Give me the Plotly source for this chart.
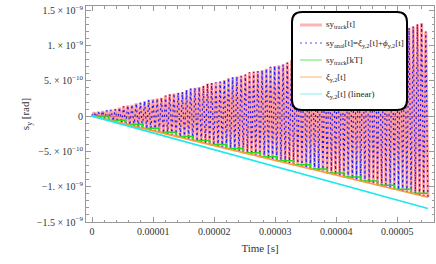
import numpy as np
import plotly.graph_objects as go

# ---------------- data (units of 1e-10 rad, time in s) ----------------
T_END = 5.5e-5
N_OSC = 80

# upper turning points of the tracked / analytic oscillation
peak_vals = [0.5, 0.6, 0.7, 0.8, 0.9, 1.0, 1.2, 1.4, 1.5, 1.6,
             1.8, 1.9, 2.1, 2.3, 2.4, 2.5, 2.6, 2.9, 3.1, 3.2,
             3.3, 3.4, 3.7, 3.9, 4.0, 4.1, 4.3, 4.6, 4.7, 4.8,
             4.9, 5.1, 5.4, 5.5, 5.6, 5.7, 5.9, 6.2, 6.3, 6.4,
             6.5, 6.7, 7.0, 7.1, 7.2, 7.3, 7.6, 7.9, 8.0, 8.1,
             8.2, 8.4, 8.7, 8.8, 8.9, 9.0, 9.3, 9.6, 9.7, 9.8,
             9.9, 10.1, 10.4, 10.5, 10.6, 10.7, 10.9, 11.2, 11.3, 11.4,
             11.5, 11.8, 12.1, 12.2, 12.3, 12.5, 12.7, 13.0, 13.2, 12.0]

# lower turning points
trough_vals = [0, -0.14, -0.29, -0.43, -0.58, -0.72, -0.86, -1.01, -1.15, -1.29,
               -1.44, -1.58, -1.73, -1.87, -2.01, -2.16, -2.30, -2.44, -2.59, -2.73,
               -2.88, -3.02, -3.16, -3.31, -3.45, -3.59, -3.74, -3.88, -4.03, -4.17,
               -4.31, -4.46, -4.60, -4.74, -4.89, -5.03, -5.18, -5.32, -5.46, -5.61,
               -5.75, -5.89, -6.04, -6.18, -6.33, -6.47, -6.61, -6.76, -6.90, -7.04,
               -7.19, -7.33, -7.48, -7.62, -7.76, -7.91, -8.05, -8.19, -8.34, -8.48,
               -8.63, -8.77, -8.91, -9.06, -9.20, -9.34, -9.49, -9.63, -9.78, -9.92,
               -10.06, -10.21, -10.35, -10.49, -10.64, -10.78, -10.93, -11.07, -11.21, -11.36,
               -11.50]

# sy_track[kT] staircase
step_vals = [0, -0.58, -1.15, -1.73, -2.30, -2.88, -3.45, -4.03, -4.60, -5.18,
             -5.75, -6.33, -6.90, -7.48, -8.05, -8.63, -9.20, -9.78, -10.35, -10.93,
             -10.93]

xi_t = [0, T_END]
xi_vals = [0, -11.5]
xi_lin_vals = [0, -13.1]

x_tickvals = [0, 1e-5, 2e-5, 3e-5, 4e-5, 5e-5]
x_ticktext = ["0", "0.00001", "0.00002", "0.00003", "0.00004", "0.00005"]
y_tickvals = [1.5e-9, 1e-9, 5e-10, 0, -5e-10, -1e-9, -1.5e-9]
y_ticktext = ["1.5 × 10<sup>−9</sup>", "1. × 10<sup>−9</sup>", "5. × 10<sup>−10</sup>", "0",
              "−5. × 10<sup>−10</sup>", "−1. × 10<sup>−9</sup>", "−1.5 × 10<sup>−9</sup>"]

legend_labels = ["sy<sub>track</sub>[t]",
                 "sy<sub>anal</sub>[t]=<i>ξ</i><sub>y,2</sub>[t]+<i>ϕ</i><sub>y,2</sub>[t]",
                 "sy<sub>track</sub>[kT]",
                 "<i>ξ</i><sub>y,2</sub>[t]",
                 "<i>ξ</i><sub>y,2</sub>[t] (linear)"]

# ---------------- build series ----------------
SC = 1e-10
t_tr = np.linspace(0, T_END, N_OSC + 1)
t_pk = (t_tr[:-1] + t_tr[1:]) / 2
osc_t, osc_y = [], []
for k in range(N_OSC):
    osc_t += [t_tr[k], t_pk[k]]
    osc_y += [trough_vals[k] * SC, peak_vals[k] * SC]
osc_t.append(t_tr[-1]); osc_y.append(trough_vals[-1] * SC)

step_t = np.linspace(0, T_END, len(step_vals))

FONT = "Liberation Serif"
fig = go.Figure()
fig.add_trace(go.Scatter(x=osc_t, y=osc_y, mode="lines", name="sy_track",
                         line=dict(color="rgba(255,60,60,0.5)", width=3), showlegend=False))
fig.add_trace(go.Scatter(x=osc_t, y=osc_y, mode="lines", name="sy_anal",
                         line=dict(color="#1a1aff", width=1.2, dash="2px,3px"), showlegend=False))
fig.add_trace(go.Scatter(x=step_t, y=[v * SC for v in step_vals], mode="lines",
                         line=dict(color="#22dd22", width=1.5, shape="hv"), showlegend=False))
fig.add_trace(go.Scatter(x=xi_t, y=[v * SC for v in xi_vals], mode="lines",
                         line=dict(color="#ff9a3c", width=1.6), showlegend=False))
fig.add_trace(go.Scatter(x=xi_t, y=[v * SC for v in xi_lin_vals], mode="lines",
                         line=dict(color="#20e8e8", width=1.6), showlegend=False))

# ---------------- layout ----------------
W, H = 436, 264
ML, MR, MT, MB = 86, 2, 6, 42
PW, PH = W - ML - MR, H - MT - MB


def px(xp):
    return (xp - ML) / PW


def py(yp):
    return (H - MB - yp) / PH


# legend box (rounded)
x0, x1, y0, y1, r = px(292), px(407), py(12), py(110), 10
rx, ry = r / PW, r / PH
path = (f"M {x0+rx},{y0} L {x1-rx},{y0} Q {x1},{y0} {x1},{y0-ry} "
        f"L {x1},{y1+ry} Q {x1},{y1} {x1-rx},{y1} L {x0+rx},{y1} Q {x0},{y1} {x0},{y1+ry} "
        f"L {x0},{y0-ry} Q {x0},{y0} {x0+rx},{y0} Z")
shapes = [dict(type="path", path=path, xref="paper", yref="paper",
               line=dict(color="black", width=2), fillcolor="white", layer="above")]
leg_styles = [dict(color="#ffb4b4", width=3),
              dict(color="#8c8cff", width=1.4, dash="2px,3px"),
              dict(color="#8cf08c", width=1.4),
              dict(color="#ffc89a", width=1.4),
              dict(color="#a8f4f4", width=1.4)]
rows = [25, 43, 60, 77, 94]
annotations = []
for lab, st, yr in zip(legend_labels, leg_styles, rows):
    shapes.append(dict(type="line", xref="paper", yref="paper", x0=px(300), x1=px(322),
                       y0=py(yr), y1=py(yr), line=st, layer="above"))
    annotations.append(dict(x=px(324), y=py(yr), xref="paper", yref="paper", text=lab,
                            showarrow=False, xanchor="left", yanchor="middle",
                            font=dict(family=FONT, size=9, color="#222")))

axis_common = dict(showline=True, linecolor="#999", linewidth=1, mirror="allticks",
                   ticks="inside", ticklen=5, tickcolor="#999", showgrid=False,
                   tickfont=dict(family=FONT, size=10, color="#333"))

fig.update_layout(
    width=W, height=H, margin=dict(l=ML, r=MR, t=MT, b=MB),
    paper_bgcolor="white", plot_bgcolor="white", showlegend=False,
    shapes=shapes, annotations=annotations,
    xaxis=dict(range=[-0.1e-5, 5.6e-5], tickvals=x_tickvals, ticktext=x_ticktext,
               zeroline=False,
               minor=dict(ticks="inside", ticklen=2.5, tickcolor="#999", dtick=0.2e-5, tick0=0),
               title=dict(text="Time [s]", font=dict(family=FONT, size=11, color="#333"),
                          standoff=8),
               **axis_common),
    yaxis=dict(range=[-1.5e-9, 1.56e-9], tickvals=y_tickvals, ticktext=y_ticktext,
               zeroline=True, zerolinecolor="#aaa", zerolinewidth=1,
               minor=dict(ticks="inside", ticklen=2.5, tickcolor="#999", dtick=1e-10, tick0=0),
               title=dict(text="s<sub>y</sub> [rad]", font=dict(family=FONT, size=11, color="#333"),
                          standoff=4),
               **axis_common),
)

fig.write_html("out.html", config={"displayModeBar": False},
               post_script="document.body.style.margin='0';")
